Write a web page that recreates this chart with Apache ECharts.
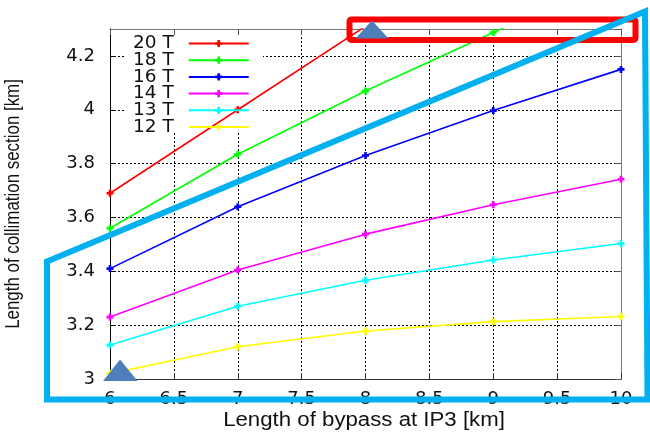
<!DOCTYPE html>
<html>
<head>
<meta charset="utf-8">
<script src="https://cdn.jsdelivr.net/npm/echarts@6/dist/echarts.min.js"></script>
<style>
  html, body { margin: 0; padding: 0; background: #ffffff; }
  #chart { width: 650px; height: 432px; }
</style>
</head>
<body>
<div id="chart"></div>
<script>
// Length of bypass at IP3 [km]
const bypassKm = [6, 7, 8, 9, 10];

// Length of collimation section [km] for each dipole field
const field20T = [3.69, 4.00, 4.31, null, null];
const field18T = [3.56, 3.835, 4.07, 4.287, 4.50];
const field16T = [3.41, 3.64, 3.83, 3.997, 4.15];
const field14T = [3.23, 3.405, 3.538, 3.647, 3.742];
const field13T = [3.126, 3.27, 3.367, 3.442, 3.503];
const field12T = [3.02, 3.12, 3.178, 3.213, 3.232];

const seriesNames = ['20 T', '18 T', '16 T', '14 T', '13 T', '12 T'];
const seriesColors = ['#ff0000', '#00ff00', '#0000ff', '#ff00ff', '#00ffff', '#ffff00'];
const seriesValues = [field20T, field18T, field16T, field14T, field13T, field12T];

// Axis tick labels
const xTickLabels = ['6', '6.5', '7', '7.5', '8', '8.5', '9', '9.5', '10'];
const yTickLabels = ['3', '3.2', '3.4', '3.6', '3.8', '4', '4.2'];

const xMin = 6, xMax = 10, xStep = 0.5;
const yMin = 3, yMax = 4.3, yStep = 0.2;

// bold plus marker
const plusSymbol = 'path://M2.5,0H5.5V2.5H8V5.5H5.5V8H2.5V5.5H0V2.5H2.5Z';
const tickFont = 'DejaVu Sans';

function labelFor(list, min, step) {
  return function (v) {
    const i = Math.round((v - min) / step);
    return Math.abs(min + i * step - v) < 1e-6 && list[i] !== undefined ? list[i] : '';
  };
}

const series = seriesNames.map(function (name, k) {
  return {
    name: name,
    type: 'line',
    xAxisIndex: 0,
    yAxisIndex: 0,
    data: bypassKm.map(function (x, i) { return [x, seriesValues[k][i]]; }),
    symbol: plusSymbol,
    symbolSize: 7,
    showSymbol: true,
    clip: true,
    connectNulls: false,
    lineStyle: { color: seriesColors[k], width: 1.6 },
    itemStyle: { color: seriesColors[k] },
    emphasis: { disabled: true },
    z: 2
  };
});

const chart = echarts.init(document.getElementById('chart'), null, { renderer: 'canvas' });

chart.setOption({
  animation: false,
  backgroundColor: '#ffffff',
  grid: { left: 110, right: 29, top: 29, bottom: 53, containLabel: false },
  legend: {
    data: seriesNames,
    orient: 'vertical',
    left: 133,
    top: 34,
    padding: 0,
    itemGap: -2.3,
    itemWidth: 60,
    itemHeight: 9,
    align: 'right',
    selectedMode: false,
    textStyle: {
      fontFamily: tickFont,
      fontSize: 18.5,
      color: '#111',
      lineHeight: 16.7,
      padding: [0, 10, 0, 0]
    }
  },
  xAxis: [
    {
      type: 'value', position: 'bottom',
      min: xMin, max: xMax, interval: xStep,
      axisLine: { show: true, lineStyle: { color: '#333', width: 1 } },
      axisTick: { show: true, inside: true, length: 6, lineStyle: { color: '#333' } },
      axisLabel: {
        margin: 11, color: '#111', fontFamily: tickFont, fontSize: 18,
        formatter: labelFor(xTickLabels, xMin, xStep)
      },
      splitLine: { show: true, lineStyle: { color: '#000', width: 1, type: [2, 2] } }
    },
    {
      type: 'value', position: 'top',
      min: xMin, max: xMax, interval: xStep,
      axisLine: { show: true, lineStyle: { color: '#777', width: 1 } },
      axisTick: { show: true, inside: true, length: 6, lineStyle: { color: '#555' } },
      axisLabel: { show: false },
      splitLine: { show: false }
    }
  ],
  yAxis: [
    {
      type: 'value', position: 'left',
      min: yMin, max: yMax, interval: yStep,
      axisLine: { show: true, lineStyle: { color: '#000', width: 1 } },
      axisTick: { show: true, inside: true, length: 6, lineStyle: { color: '#000' } },
      axisLabel: {
        margin: 15, color: '#111', fontFamily: tickFont, fontSize: 18,
        showMaxLabel: false,
        formatter: labelFor(yTickLabels, yMin, yStep)
      },
      splitLine: { show: true, lineStyle: { color: '#000', width: 1, type: [2, 2] } }
    },
    {
      type: 'value', position: 'right',
      min: yMin, max: yMax, interval: yStep,
      axisLine: { show: true, lineStyle: { color: '#777', width: 1 } },
      axisTick: { show: true, inside: true, length: 6, lineStyle: { color: '#555' } },
      axisLabel: { show: false },
      splitLine: { show: false }
    }
  ],
  series: series,
  graphic: [
    // opaque key background: hides the grid behind the key but not the curves
    {
      type: 'rect', z: 1,
      shape: { x: 125, y: 35, width: 138, height: 98 },
      style: { fill: '#ffffff' },
      silent: true
    },
    // axis titles
    {
      type: 'text', z: 10,
      x: 364, y: 421, scaleX: 1.14,
      style: {
        text: 'Length of bypass at IP3 [km]',
        fontFamily: 'Liberation Sans', fontSize: 19.5, fill: '#111',
        align: 'center', verticalAlign: 'middle'
      },
      silent: true
    },
    {
      type: 'text', z: 10,
      x: 14, y: 204, rotation: Math.PI / 2, scaleY: 1.18,
      style: {
        text: 'Length of collimation section [km]',
        fontFamily: 'Liberation Sans', fontSize: 16.9, fill: '#111',
        align: 'center', verticalAlign: 'middle'
      },
      silent: true
    },
    // highlight frame along the top edge
    {
      type: 'rect', z: 100,
      shape: { x: 349.5, y: 19.5, width: 286, height: 20.5, r: 2 },
      style: { fill: 'none', stroke: '#ff0000', lineWidth: 6 },
      silent: true
    },
    // markers
    {
      type: 'polygon', z: 101,
      shape: { points: [[372, 20.5], [388.5, 38.5], [355.5, 38.5]] },
      style: { fill: '#4f7fba' },
      silent: true
    },
    {
      type: 'polygon', z: 101,
      shape: { points: [[120, 359.5], [137.5, 381], [103, 381]] },
      style: { fill: '#4f7fba' },
      silent: true
    },
    // outline of the region of interest
    {
      type: 'polygon', z: 102,
      shape: { points: [[47, 261.5], [645, 11.5], [647.5, 399.5], [47, 399.5]] },
      style: { fill: 'none', stroke: '#00b0f0', lineWidth: 6, lineJoin: 'miter' },
      silent: true
    }
  ]
});
</script>
</body>
</html>
